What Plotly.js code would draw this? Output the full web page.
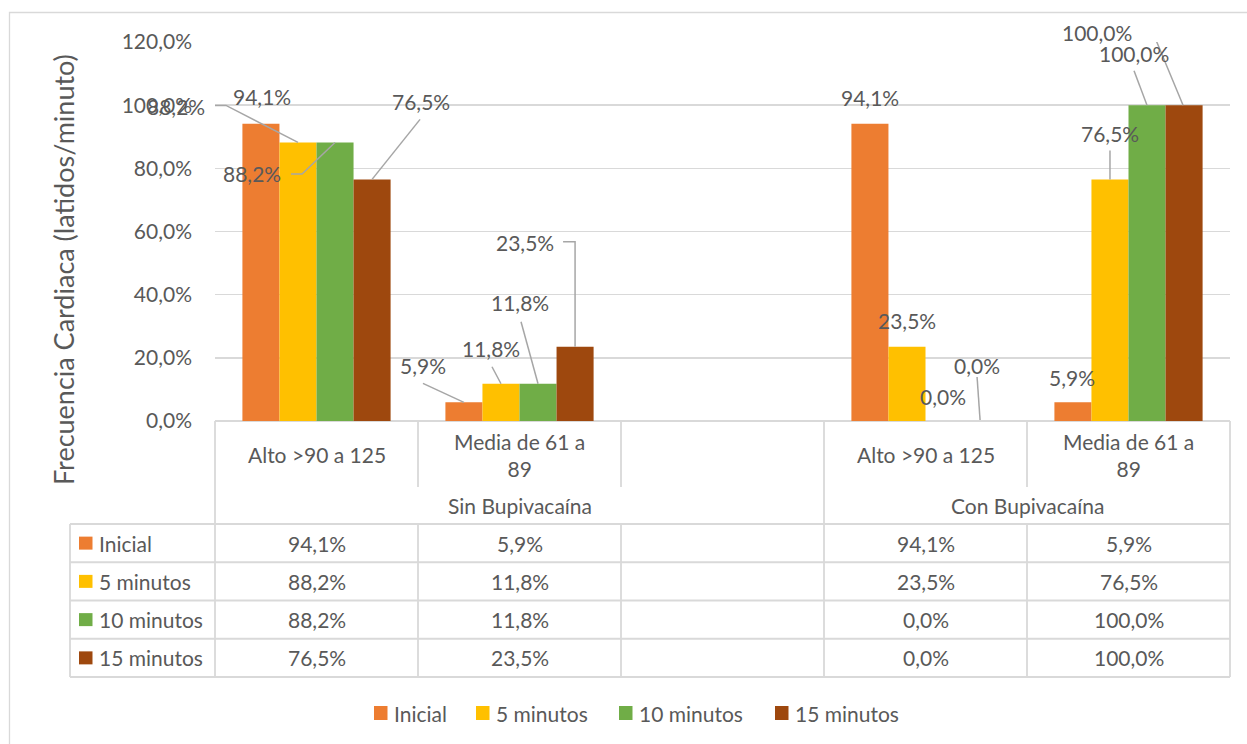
<!DOCTYPE html>
<html>
<head>
<meta charset="utf-8">
<script src="https://cdn.plot.ly/plotly-3.0.1.min.js"></script>
<style>
  html, body { margin: 0; padding: 0; background: #ffffff; }
  #chart { width: 1247px; height: 744px; }
</style>
</head>
<body>
<div id="chart"></div>
<script>
// ---------------- DATA ----------------
const categories = ['Alto >90 a 125', 'Media de 61 a 89', '', 'Alto >90 a 125', 'Media de 61 a 89'];
const groupNames = ['Sin Bupivacaína', 'Con Bupivacaína'];
const categoryGroup = [0, 0, 0, 1, 1];
const seriesNames = ['Inicial', '5 minutos', '10 minutos', '15 minutos'];
const inicial   = [94.1, 5.9, null, 94.1, 5.9];
const minutos5  = [88.2, 11.8, null, 23.5, 76.5];
const minutos10 = [88.2, 11.8, null, 0.0, 100.0];
const minutos15 = [76.5, 23.5, null, 0.0, 100.0];
const yTickValues = [0, 20, 40, 60, 80, 100, 120];
const yTitle = 'Frecuencia Cardiaca (latidos/minuto)';

// ---------------- STYLE ----------------
const seriesValues = [inicial, minutos5, minutos10, minutos15];
const colors = ['#ED7D31', '#FFC000', '#70AD47', '#9E480E'];
const FONT = 'Lato, "Open Sans", sans-serif';
const TXT = '#595959';
const GRID = '#d9d9d9';
const LEAD = '#a6a6a6';
const FS = 21;

const W = 1247, H = 744;
const PL = 215, PR = 1230, PT = 42, PB = 421;
const px2x = px => (px - PL) / (PR - PL);
const py2y = py => (PB - py) / (PB - PT);
const nCat = categories.length;
const BARGAP = 0.27;
const barW = (1 - BARGAP) / seriesNames.length;

// label placement (pixel offsets of label centre from bar top; y up) and leader lines
const labelPos = [
  [{dx: 1, dy: 27}, {dx: -41, dy: 37, line: [[-41, 19], [0, 0]]}, null, {dx: 0, dy: 26}, {dx: -1, dy: 25}],
  [{dx: -122, dy: 36, line: [[-83, 37], [-72, 37], [0, 0]]}, {dx: -10, dy: 35, line: [[-9, 17], [0, 0]]}, null, {dx: 0, dy: 26}, {dx: 0, dy: 46, line: [[0, 29], [0, 0]]}],
  [{dx: -83, dy: -31.5, line: [[-44, -31.5], [-33, -31.5], [0, 0]]}, {dx: -18, dy: 81, line: [[-17, 62], [0, 0]]}, null, {dx: -1, dy: 25}, {dx: -13, dy: 52, line: [[-13, 34.5], [0, 0]]}],
  [{dx: 48.5, dy: 78, line: [[48, 60], [0, 0]]}, {dx: -50, dy: 104, line: [[-12, 105], [0, 105], [0, 0]]}, null, {dx: -4, dy: 56, line: [[-4, 44], [-1, 1]]}, {dx: -87, dy: 73, line: [[-43, 74.5], [-32, 74.5], [-1, 0]]}]
];

const fmt = v => (v === null || v === undefined) ? '' : v.toFixed(1).replace('.', ',') + '%';
function wrap(text, maxChars) {
  const words = text.split(' ');
  const lines = [];
  let cur = '';
  words.forEach(w => {
    const t = cur ? cur + ' ' + w : w;
    if (t.length > maxChars && cur) { lines.push(cur); cur = w; } else { cur = t; }
  });
  if (cur) lines.push(cur);
  return lines.join('<br>');
}

const xIdx = categories.map((c, i) => i);

const traces = seriesNames.map((name, s) => ({
  type: 'bar',
  name: name,
  x: xIdx,
  y: seriesValues[s],
  marker: {color: colors[s], line: {width: 0}},
  hoverinfo: 'skip'
}));

const annotations = [];
const shapes = [];

// chart border
shapes.push({type: 'rect', xref: 'paper', yref: 'paper',
  x0: px2x(9.5), x1: px2x(1262), y0: py2y(12.5), y1: py2y(760),
  line: {color: GRID, width: 1.3}, fillcolor: 'rgba(0,0,0,0)', layer: 'below'});

// data labels + leader lines
seriesNames.forEach((name, s) => {
  seriesValues[s].forEach((v, c) => {
    if (v === null) return;
    const pos = labelPos[s][c];
    if (!pos) return;
    const bx = c + (s - (seriesNames.length - 1) / 2) * barW;
    annotations.push({
      xref: 'x', yref: 'y', x: bx, y: v, text: fmt(v), showarrow: false,
      xanchor: 'center', yanchor: 'middle', xshift: pos.dx, yshift: pos.dy,
      font: {family: FONT, size: FS, color: TXT}
    });
    if (pos.line) {
      const path = pos.line.map((p, k) => (k === 0 ? 'M' : 'L') + p[0] + ',' + p[1]).join(' ');
      shapes.push({type: 'path', xref: 'x', yref: 'y', xsizemode: 'pixel', ysizemode: 'pixel',
        xanchor: bx, yanchor: v, path: path, line: {color: LEAD, width: 1.5}, layer: 'above'});
    }
  });
});

// ---------- data table ----------
const hdrBottom = 487, grpBottom = 524, rowH = 38.25;
const nRows = seriesNames.length;
const tableBottom = grpBottom + nRows * rowH;
const lineStyle = {color: GRID, width: 1.8};
const slotX = b => b / nCat; // paper x of slot boundary b
function vline(xp, y0px, y1px) {
  shapes.push({type: 'line', xref: 'paper', yref: 'paper', x0: xp, x1: xp, y0: py2y(y0px), y1: py2y(y1px), line: lineStyle, layer: 'below'});
}
function hline(x0p, x1p, ypx) {
  shapes.push({type: 'line', xref: 'paper', yref: 'paper', x0: x0p, x1: x1p, y0: py2y(ypx), y1: py2y(ypx), line: lineStyle, layer: 'below'});
}
// group boundaries
const groupStart = [];
categoryGroup.forEach((g, i) => { if (i === 0 || categoryGroup[i - 1] !== g) groupStart.push(i); });
for (let b = 0; b <= nCat; b++) {
  const isGroupEdge = groupStart.includes(b) || b === nCat;
  if (isGroupEdge) {
    vline(slotX(b), PB, tableBottom);
  } else {
    vline(slotX(b), PB, hdrBottom);
    vline(slotX(b), grpBottom, tableBottom);
  }
}
vline(px2x(70), grpBottom, tableBottom);
for (let r = 0; r <= nRows; r++) hline(px2x(70), 1, grpBottom + r * rowH);

// category labels
categories.forEach((c, i) => {
  if (!c) return;
  annotations.push({xref: 'x', yref: 'paper', x: i, y: py2y((PB + hdrBottom) / 2 + 0.5), text: wrap(c, 14),
    showarrow: false, xanchor: 'center', yanchor: 'middle', align: 'center',
    font: {family: FONT, size: FS, color: TXT}});
});
// group labels
groupNames.forEach((g, gi) => {
  const idx = categoryGroup.map((cg, i) => cg === gi ? i : -1).filter(i => i >= 0);
  const mid = (idx[0] + idx[idx.length - 1]) / 2;
  annotations.push({xref: 'x', yref: 'paper', x: mid, y: py2y((hdrBottom + grpBottom) / 2), text: g,
    showarrow: false, xanchor: 'center', yanchor: 'middle',
    font: {family: FONT, size: FS, color: TXT}});
});
// data rows
seriesNames.forEach((name, s) => {
  const cy = grpBottom + (s + 0.5) * rowH;
  shapes.push({type: 'rect', xref: 'paper', yref: 'paper', x0: px2x(79), x1: px2x(92.5), y0: py2y(cy - 6.5), y1: py2y(cy + 6.5),
    fillcolor: colors[s], line: {width: 0}});
  annotations.push({xref: 'paper', yref: 'paper', x: px2x(97), y: py2y(cy), text: name, showarrow: false,
    xanchor: 'left', yanchor: 'middle', font: {family: FONT, size: FS, color: TXT}});
  seriesValues[s].forEach((v, c) => {
    if (v === null) return;
    annotations.push({xref: 'x', yref: 'paper', x: c, y: py2y(cy), text: fmt(v), showarrow: false,
      xanchor: 'center', yanchor: 'middle', font: {family: FONT, size: FS, color: TXT}});
  });
});

// legend (bottom)
const legendX = [374, 476, 619, 775];
const legendY = 713;
seriesNames.forEach((name, s) => {
  shapes.push({type: 'rect', xref: 'paper', yref: 'paper', x0: px2x(legendX[s]), x1: px2x(legendX[s] + 13.5),
    y0: py2y(legendY - 7), y1: py2y(legendY + 7), fillcolor: colors[s], line: {width: 0}});
  annotations.push({xref: 'paper', yref: 'paper', x: px2x(legendX[s] + 18), y: py2y(legendY), text: name, showarrow: false,
    xanchor: 'left', yanchor: 'middle', font: {family: FONT, size: FS, color: TXT}});
});

// y axis title
annotations.push({xref: 'paper', yref: 'paper', x: px2x(63), y: py2y(270), text: yTitle, textangle: -90,
  showarrow: false, xanchor: 'center', yanchor: 'middle', font: {family: FONT, size: 27, color: TXT}});

const layout = {
  width: W, height: H,
  margin: {l: PL, r: W - PR, t: PT, b: H - PB, pad: 0},
  paper_bgcolor: '#ffffff', plot_bgcolor: '#ffffff',
  separators: ',.',
  showlegend: false,
  barmode: 'group', bargap: BARGAP, bargroupgap: 0,
  font: {family: FONT, size: FS, color: TXT},
  xaxis: {range: [-0.5, nCat - 0.5], showticklabels: false, showgrid: false, zeroline: false, showline: false, ticks: '', fixedrange: true},
  yaxis: {range: [0, 120], tickvals: yTickValues, ticktext: yTickValues.map(v => fmt(v)),
    showgrid: true, gridcolor: GRID, gridwidth: 1.5, zeroline: true, zerolinecolor: GRID, zerolinewidth: 1.8,
    showline: false, ticks: '', ticklabelstandoff: 22, tickfont: {family: FONT, size: FS, color: TXT}, fixedrange: true},
  shapes: shapes,
  annotations: annotations
};

Plotly.newPlot('chart', traces, layout, {displayModeBar: false, staticPlot: true});
</script>
</body>
</html>
